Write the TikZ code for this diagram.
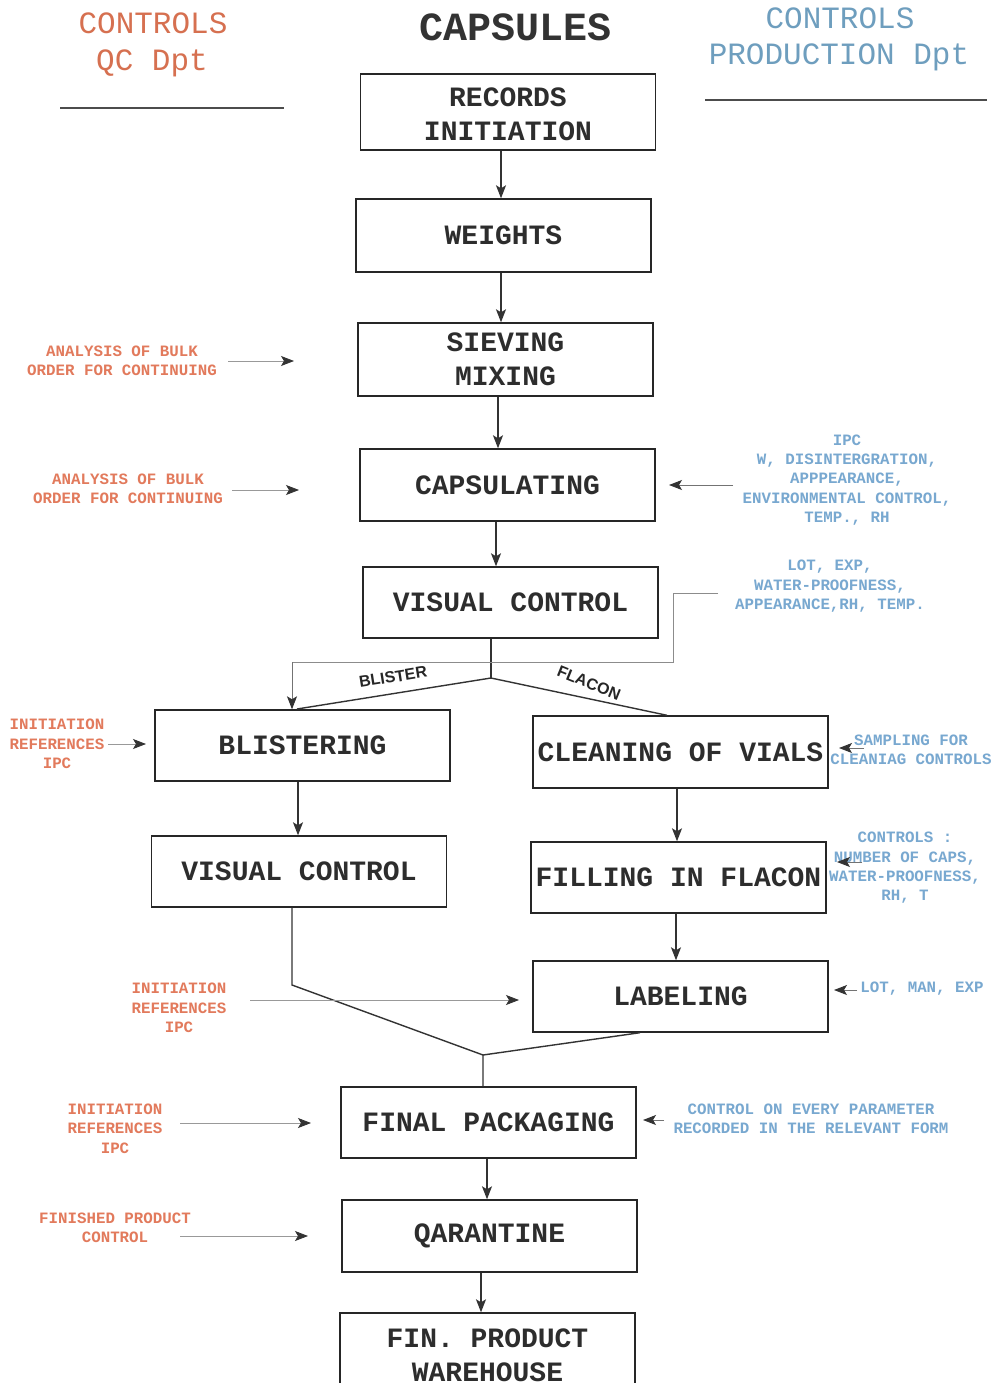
\documentclass[tikz,border=0pt]{standalone}
\usepackage{fontspec}
\setmainfont{Liberation Mono}
\newfontfamily\monob{Liberation Mono}
\newfontfamily\lsans{Liberation Sans}
\usetikzlibrary{arrows.meta}
\definecolor{qcorange}{RGB}{214,112,80}
\definecolor{qcsmall}{RGB}{226,122,92}
\definecolor{prodblue}{RGB}{110,158,190}
\definecolor{prodsmall}{RGB}{120,168,208}
\definecolor{boxtext}{RGB}{45,45,45}
\tikzset{
  box/.style={draw=black!85, line width=1.4pt, minimum width=295pt, minimum height=72pt,
    align=center, inner sep=0pt, text=boxtext,
    font=\monob\fontsize{28}{34}\selectfont\bfseries},
  qcnote/.style={align=center, text=qcsmall, inner sep=0pt,
    font=\fontsize{15.8}{19.4}\selectfont\bfseries},
  prnote/.style={align=center, text=prodsmall, inner sep=0pt,
    font=\fontsize{15.8}{19.4}\selectfont\bfseries},
  flow/.style={draw=black!80, line width=1.4pt},
  arr/.style={flow, -{Stealth[length=13pt,width=10pt,inset=3pt]}},
  garr/.style={draw=black!40, line width=0.8pt, -{Stealth[length=13pt,width=10pt,inset=3pt,color=black!80]}},
  karr/.style={draw=black!55, line width=0.9pt, -{Stealth[length=13pt,width=10pt,inset=3pt,color=black!80]}},
  branch/.style={font=\lsans\fontsize{16}{16}\selectfont\bfseries, text=black!85, inner sep=0pt}
}
\begin{document}
\begin{tikzpicture}[x=1pt,y=-1pt]
\useasboundingbox (0,0) rectangle (997,1383);
\fill[white] (0,0) rectangle (997,1383);

% headers
\node[text=qcorange, font=\fontsize{31}{31}\selectfont] (hqc1) at (153,23) {CONTROLS};
\node[text=qcorange, font=\fontsize{31}{31}\selectfont] (hqc2) at (152,63) {QC Dpt};
\node[text=black!80, font=\fontsize{40}{40}\selectfont\bfseries] (htitle) at (516,27) {CAPSULES};
\node[text=prodblue, font=\fontsize{31}{31}\selectfont] (hpr1) at (840,18) {CONTROLS};
\node[text=prodblue, font=\fontsize{31}{31}\selectfont] (hpr2) at (839,57) {PRODUCTION Dpt};
\draw[black!70, line width=1.3pt] (60,108) -- (284,108);
\draw[black!70, line width=1.3pt] (705,100) -- (987,100);

% main boxes
\node[box, text height=67pt, text depth=9pt] (rec) at (508,112) {RECORDS\\INITIATION};
\node[box, minimum height=73pt] (wei) at (503.5,235.5) {WEIGHTS};
\node[box, minimum height=73pt] (sie) at (505.5,359.5) {SIEVING\\MIXING};
\node[box] (cap) at (507.5,485) {CAPSULATING};
\node[box, minimum height=71pt] (vis) at (510.5,602.5) {VISUAL CONTROL};
\node[box, minimum height=71pt] (bli) at (302.5,745.5) {BLISTERING};
\node[box] (cle) at (680.5,752) {CLEANING OF VIALS};
\node[box, minimum height=71pt] (vis2) at (299,871.5) {VISUAL CONTROL};
\node[box, minimum height=71pt] (fil) at (678.5,877.5) {FILLING IN FLACON};
\node[box, minimum height=71pt] (lab) at (680.5,996.5) {LABELING};
\node[box, minimum height=71pt] (fin) at (488.5,1122.5) {FINAL PACKAGING};
\node[box] (qar) at (489.5,1236) {QARANTINE};
\node[box, minimum height=84pt] (war) at (487.5,1355) {FIN. PRODUCT\\WAREHOUSE};

% main flow
\draw[arr] (501,0 |- rec.south) -- (501,0 |- wei.north);
\draw[arr] (501,0 |- wei.south) -- (501,0 |- sie.north);
\draw[arr] (498,0 |- sie.south) -- (498,0 |- cap.north);
\draw[arr] (496,0 |- cap.south) -- (496,0 |- vis.north);
\draw[flow] (491,0 |- vis.south) -- (491,678) coordinate (apex);
\draw[flow] (apex) -- (297,709);
\draw[flow] (apex) -- (667,0 |- cle.north);
\node[branch, rotate=9] (lblb) at (393,677) {BLISTER};
\node[branch, rotate=-22] (lblf) at (589,683) {FLACON};
\draw[arr] (298,0 |- bli.south) -- (298,0 |- vis2.north);
\draw[arr] (677,0 |- cle.south) -- (677,0 |- fil.north);
\draw[arr] (676,0 |- fil.south) -- (676,0 |- lab.north);
\draw[flow] (292,0 |- vis2.south) -- (292,985) -- (483,1055) coordinate (join);
\draw[flow] (640,0 |- lab.south) -- (join) -- (483,0 |- fin.north);
\draw[arr] (487,0 |- fin.south) -- (487,0 |- qar.north);
\draw[arr] (481,0 |- qar.south) -- (481,0 |- war.north);

% QC notes (left)
\node[qcnote] (a1) at (122,360.5) {ANALYSIS OF BULK\\ORDER FOR CONTINUING};
\coordinate (a1e) at (294,361);
\draw[garr] (228,361) -- (a1e);
\node[qcnote] (a2) at (128,488.5) {ANALYSIS OF BULK\\ORDER FOR CONTINUING};
\coordinate (a2e) at (299,490);
\draw[garr] (232,490) -- (a2e);
\node[qcnote] (ir1) at (57,744) {INITIATION\\REFERENCES\\IPC};
\draw[garr] (108,744) -- (146,744);
\node[qcnote] (ir2) at (179,1008) {INITIATION\\REFERENCES\\IPC};
\draw[garr] (250,1000) -- (519,1000);
\node[qcnote] (ir3) at (115,1128.5) {INITIATION\\REFERENCES\\IPC};
\draw[garr] (180,1123) -- (311,1123);
\node[qcnote] (fpc) at (115,1227.5) {FINISHED PRODUCT\\CONTROL};
\draw[garr] (180,1236) -- (308,1236);

% Production notes (right)
\node[prnote] (ipc) at (847,480) {IPC\\W, DISINTERGRATION,\\APPPEARANCE,\\ENVIRONMENTAL CONTROL,\\TEMP., RH};
\draw[karr] (733,485) -- (669,485);
\node[prnote] (lot) at (830,586.5) {LOT, EXP,\\WATER-PROOFNESS,\\APPEARANCE,RH, TEMP.};
\draw[draw=black!45, line width=0.9pt] (718,593) -- (673,593) -- (673,662) -- (292,662);
\draw[karr] (292,662) -- (292,0 |- bli.north);
\node[prnote] (samp) at (911,749.5) {SAMPLING FOR\\CLEANIAG CONTROLS};
\draw[karr] (864,748) -- (839,748);
\node[prnote] (ctrl) at (905,868) {CONTROLS :\\NUMBER OF CAPS,\\WATER-PROOFNESS,\\RH, T};
\draw[karr] (862,862) -- (837,862);
\node[prnote] (lme) at (922,989) {LOT, MAN, EXP};
\draw[karr] (857,990) -- (834,990);
\node[prnote] (cev) at (811,1118.5) {CONTROL ON EVERY PARAMETER\\RECORDED IN THE RELEVANT FORM};
\draw[karr] (664,1120) -- (643,1120);
\end{tikzpicture}
\end{document}
